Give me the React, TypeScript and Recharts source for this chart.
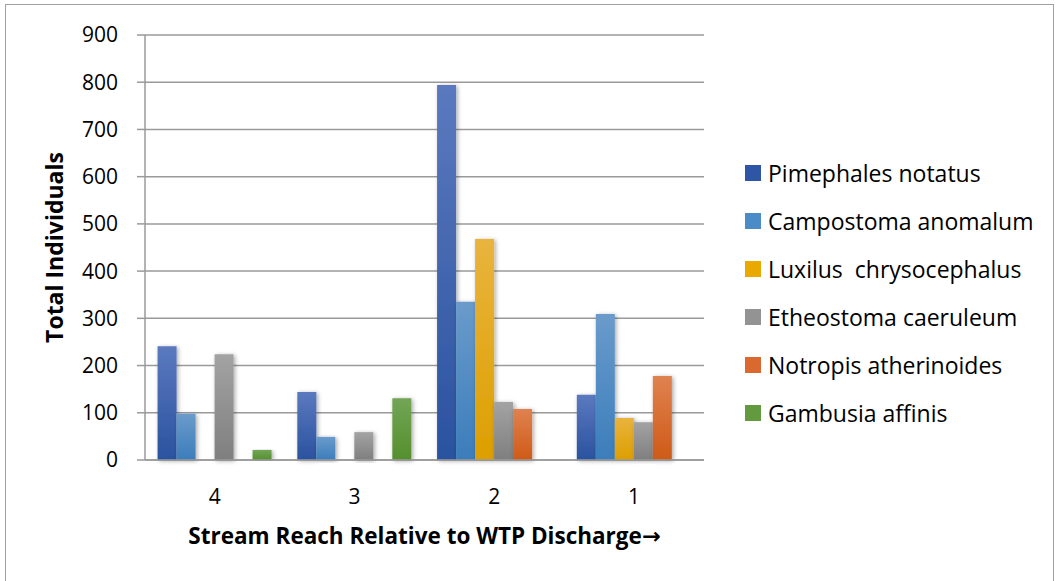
import { BarChart, Bar, XAxis, YAxis, CartesianGrid, Label } from "recharts"

// reaches, listed left to right as in the figure
const reaches = ["4", "3", "2", "1"]

const pimephales = [241, 144, 794, 138]
const campostoma = [98, 49, 335, 309]
const luxilus = [0, 0, 468, 89]
const etheostoma = [224, 59, 123, 80]
const notropis = [0, 0, 108, 178]
const gambusia = [21, 131, 0, 0]

const yTicks = [0, 100, 200, 300, 400, 500, 600, 700, 800, 900]
const edgeTicks = [0, 1, 2, 3, 4]

const series = [
  { key: "pimephales", name: "Pimephales notatus", values: pimephales, top: "#5b79bf", bottom: "#2a529f", swatch: "#2f56a6" },
  { key: "campostoma", name: "Campostoma anomalum", values: campostoma, top: "#6a9bcb", bottom: "#3b7dbb", swatch: "#4a8bc8" },
  { key: "luxilus", name: "Luxilus  chrysocephalus", values: luxilus, top: "#e9b43e", bottom: "#dd9f00", swatch: "#eaa900" },
  { key: "etheostoma", name: "Etheostoma caeruleum", values: etheostoma, top: "#a3a3a3", bottom: "#7f7f7f", swatch: "#939393" },
  { key: "notropis", name: "Notropis atherinoides", values: notropis, top: "#df8250", bottom: "#cf5a17", swatch: "#d9692e" },
  { key: "gambusia", name: "Gambusia affinis", values: gambusia, top: "#72a556", bottom: "#558f2d", swatch: "#63993f" },
]

const data = reaches.map((reach, i) => {
  const row: Record<string, number | string> = { reach, pos: i + 0.5 }
  series.forEach((s) => {
    row[s.key] = s.values[i]
  })
  return row
})

const font = "'Open Sans', 'DejaVu Sans', sans-serif"
const axisGray = "#9a9a9a"

export default function App() {
  return (
    <div style={{ position: "absolute", left: 0, top: 0, width: 1060, height: 581, background: "#fff", fontFamily: font }}>
      <div
        style={{
          position: "absolute",
          left: 5,
          top: 4,
          width: 1049,
          height: 590,
          border: "1.5px solid #a0a0a0",
          boxSizing: "border-box",
        }}
      />
      <BarChart
        width={1060}
        height={581}
        data={data}
        margin={{ top: 35, right: 356, bottom: 31, left: 45 }}
        barCategoryGap="9%"
        barGap={0}
        style={{ position: "absolute", left: 0, top: 0 }}
      >
        <defs>
          <filter id="barShadow" x="-30%" y="-10%" width="160%" height="120%">
            <feDropShadow dx="1.5" dy="1" stdDeviation="2" floodColor="#000" floodOpacity="0.35" />
          </filter>
          {series.map((s) => (
            <linearGradient key={s.key} id={`grad-${s.key}`} x1="0" y1="0" x2="0" y2="1">
              <stop offset="0%" stopColor={s.top} />
              <stop offset="100%" stopColor={s.bottom} />
            </linearGradient>
          ))}
        </defs>
        <CartesianGrid vertical={false} stroke={axisGray} strokeWidth={1.5} />
        <XAxis
          xAxisId="edge"
          type="number"
          dataKey="pos"
          domain={[0, 4]}
          ticks={edgeTicks}
          height={0}
          tick={false}
          axisLine={false}
          tickLine={{ stroke: axisGray, strokeWidth: 1.5 }}
          tickSize={9}
        />
        <XAxis
          dataKey="reach"
          height={90}
          axisLine={{ stroke: axisGray, strokeWidth: 1.5 }}
          tickLine={false}
          tickMargin={23}
          tick={{ fontSize: 21, fill: "#000", fontFamily: font }}
        >
          <Label
            value="Stream Reach Relative to WTP Discharge→"
            position="insideBottom"
            offset={6}
            style={{ fontSize: 22.5, fontWeight: 700, fill: "#000", fontFamily: font }}
          />
        </XAxis>
        <YAxis
          domain={[0, 900]}
          ticks={yTicks}
          width={100}
          interval={0}
          axisLine={{ stroke: axisGray, strokeWidth: 1.5 }}
          tickLine={{ stroke: axisGray, strokeWidth: 1.5 }}
          tickSize={8}
          tickMargin={19}
          tick={{ fontSize: 21, fill: "#000", fontFamily: font }}
        >
          <Label
            value="Total Individuals"
            angle={-90}
            position="insideLeft"
            offset={10}
            style={{ fontSize: 23, fontWeight: 700, fill: "#000", fontFamily: font, textAnchor: "middle" }}
          />
        </YAxis>
        {series.map((s) => (
          <Bar
            key={s.key}
            dataKey={s.key}
            name={s.name}
            fill={`url(#grad-${s.key})`}
            filter="url(#barShadow)"
            isAnimationActive={false}
          />
        ))}
      </BarChart>
      <div style={{ position: "absolute", left: 745, top: 149 }}>
        {series.map((s) => (
          <div key={s.key} style={{ display: "flex", alignItems: "center", height: 48, whiteSpace: "pre" }}>
            <span style={{ width: 16, height: 16, background: s.swatch, marginRight: 7, display: "inline-block" }} />
            <span style={{ fontSize: 23, color: "#000", lineHeight: "26px" }}>{s.name}</span>
          </div>
        ))}
      </div>
    </div>
  )
}
